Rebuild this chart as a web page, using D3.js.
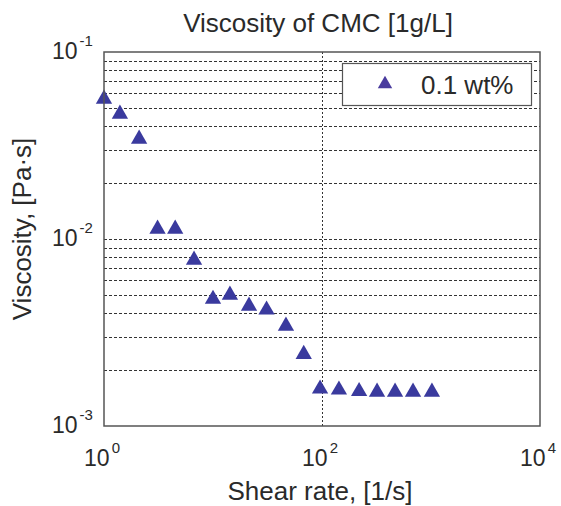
<!DOCTYPE html>
<html>
<head>
<meta charset="utf-8">
<script src="https://cdn.jsdelivr.net/npm/d3@7/dist/d3.min.js"></script>
<style>
    body { margin: 0; background: #fff; }
    svg text { font-family: "Liberation Sans", Arial, sans-serif; fill: #2a2a2a; }
</style>
</head>
<body>
<svg id="chart" width="561" height="506"></svg>
<script>
    'use strict';

    // shear rate [1/s]
    var shearRate = [1, 1.4, 2.1, 3.1, 4.5, 6.7, 10, 14.3, 21.4, 31, 46.7, 68,
        96, 143, 219, 320, 468, 684, 1020];
    // viscosity [Pa.s]
    var viscosity = [0.0568, 0.0472, 0.0347, 0.01146, 0.01146, 0.00782, 0.00483, 0.00508,
        0.00444, 0.00423, 0.00347, 0.00245,
        0.00160, 0.00158, 0.00155, 0.00154, 0.00154, 0.00154, 0.00154];

    var xTickExps = [0, 2, 4];
    var yTickExps = [-1, -2, -3];
    var seriesName = '0.1 wt%';

    var MARGIN = { left: 104, right: 540, top: 52, bottom: 426 };
    var MARKER_COLOR = '#3a3a9e';
    var GRID_COLOR = '#333';

    var svg = d3.select('#chart');

    var x = d3.scaleLog().domain([1, 1e4]).range([MARGIN.left, MARGIN.right]);
    var y = d3.scaleLog().domain([1e-3, 1e-1]).range([MARGIN.bottom, MARGIN.top]);

    function powLabel(sel, exp) {
        sel.append('tspan').text('10');
        sel.append('tspan')
            .attr('dx', 2)
            .attr('dy', -13)
            .attr('font-size', 15)
            .text(exp);
    }

    function renderGrid() {
        var gridGroup = svg.append('g');
        // minor + major y grid
        var yGrid = [];
        [-3, -2].forEach(function (e) {
            for (var k = 1; k <= 9; k++) {
                if (e === -3 && k === 1) {
                    continue;
                }
                yGrid.push(k * Math.pow(10, e));
            }
        });
        gridGroup.selectAll('line.yg').data(yGrid).enter()
            .append('line')
            .attr('class', 'yg')
            .attr('x1', MARGIN.left)
            .attr('x2', MARGIN.right)
            .attr('y1', function (d) { return Math.round(y(d)) + 0.5; })
            .attr('y2', function (d) { return Math.round(y(d)) + 0.5; })
            .attr('stroke', GRID_COLOR)
            .attr('stroke-width', 1)
            .attr('stroke-dasharray', '3,2');
        // only the middle decade has a vertical grid line
        gridGroup.append('line')
            .attr('x1', Math.round(x(100)) + 0.5)
            .attr('x2', Math.round(x(100)) + 0.5)
            .attr('y1', MARGIN.top)
            .attr('y2', MARGIN.bottom)
            .attr('stroke', GRID_COLOR)
            .attr('stroke-width', 1)
            .attr('stroke-dasharray', '2,2');
    }

    function renderAxes() {
        var axisGroup = svg.append('g');
        axisGroup.append('rect')
            .attr('x', MARGIN.left)
            .attr('y', MARGIN.top)
            .attr('width', MARGIN.right - MARGIN.left)
            .attr('height', MARGIN.bottom - MARGIN.top)
            .attr('fill', 'none')
            .attr('stroke', '#555')
            .attr('stroke-width', 1.5);

        axisGroup.selectAll('text.xt').data(xTickExps).enter()
            .append('text')
            .attr('class', 'xt')
            .attr('x', function (d) { return x(Math.pow(10, d)) - 2; })
            .attr('y', 466)
            .attr('text-anchor', 'middle')
            .attr('font-size', 23)
            .each(function (d) { powLabel(d3.select(this), d); });

        axisGroup.selectAll('text.yt').data(yTickExps).enter()
            .append('text')
            .attr('class', 'yt')
            .attr('x', 52)
            .attr('y', function (d) { return y(Math.pow(10, d)) + 7; })
            .attr('font-size', 23)
            .each(function (d) { powLabel(d3.select(this), d); });

        svg.append('text')
            .attr('x', 318)
            .attr('y', 32)
            .attr('text-anchor', 'middle')
            .attr('font-size', 26)
            .text('Viscosity of CMC [1g/L]');

        svg.append('text')
            .attr('x', 320)
            .attr('y', 500)
            .attr('text-anchor', 'middle')
            .attr('font-size', 26)
            .text('Shear rate, [1/s]');

        svg.append('text')
            .attr('transform', 'translate(31,229) rotate(-90)')
            .attr('text-anchor', 'middle')
            .attr('font-size', 26)
            .text('Viscosity, [Pa\u00b7s]');
    }

    function renderPoints() {
        var tri = d3.symbol().type(d3.symbolTriangle).size(115);
        var data = shearRate.map(function (s, i) {
            return { x: s, y: viscosity[i] };
        });
        svg.append('g').selectAll('path').data(data).enter()
            .append('path')
            .attr('d', tri)
            .attr('transform', function (d) {
                return 'translate(' + x(d.x) + ',' + (y(d.y) + 1) + ')';
            })
            .attr('fill', MARKER_COLOR);
    }

    function renderLegend() {
        var legend = svg.append('g');
        legend.append('rect')
            .attr('x', 342.5)
            .attr('y', 63.5)
            .attr('width', 189)
            .attr('height', 42)
            .attr('fill', '#fff')
            .attr('stroke', '#555')
            .attr('stroke-width', 1.2);
        legend.append('path')
            .attr('d', d3.symbol().type(d3.symbolTriangle).size(90))
            .attr('transform', 'translate(385,84)')
            .attr('fill', '#4a3c9e');
        legend.append('text')
            .attr('x', 421)
            .attr('y', 94)
            .attr('font-size', 26)
            .text(seriesName);
    }

    renderGrid();
    renderPoints();
    renderAxes();
    renderLegend();
</script>
</body>
</html>
